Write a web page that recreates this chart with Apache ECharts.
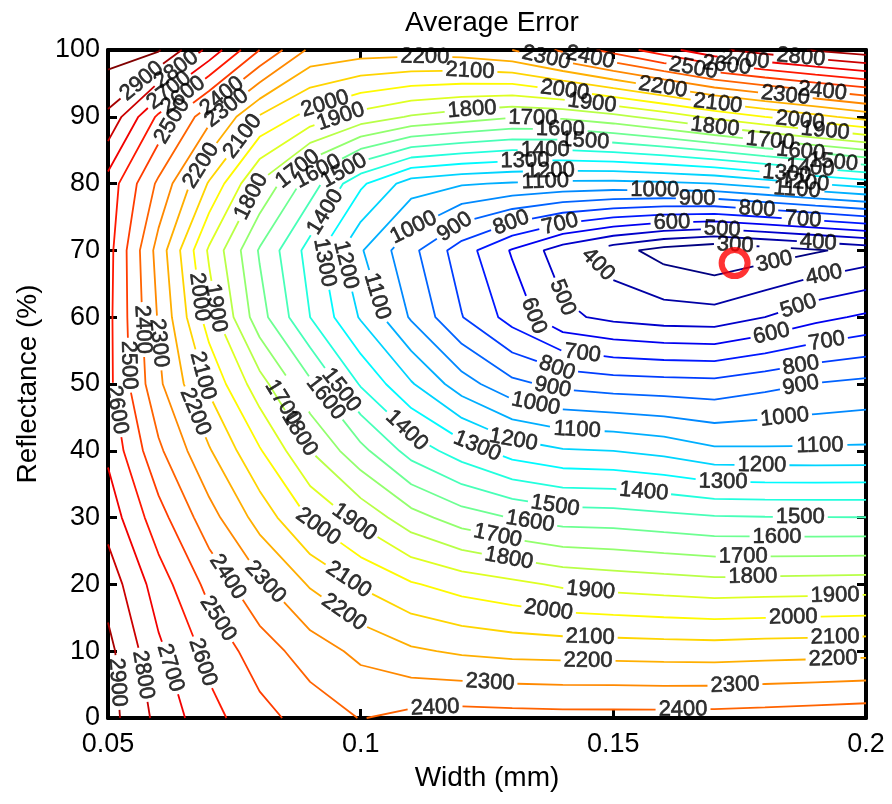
<!DOCTYPE html>
<html><head><meta charset="utf-8"><title>Average Error</title>
<script src="https://cdn.jsdelivr.net/npm/echarts@6/dist/echarts.min.js"></script>
<style>html,body{margin:0;padding:0;background:#fff;}#chart{width:892px;height:804px;}</style>
</head><body><div id="chart"></div>
<script>
// ---- data ----
const xValues = [0.05,0.06,0.07,0.08,0.09,0.10,0.11,0.12,0.13,0.14,0.15,0.16,0.17,0.18,0.19,0.20];
const yValues = [0,10,20,30,40,50,60,70,80,90,100];
// average error on the grid, one row per reflectance value
const errY0   = [2940,2772,2635,2533,2459,2396,2430,2445,2440,2435,2435,2435,2438,2445,2455,2465];
const errY10  = [2930,2720,2570,2450,2350,2275,2215,2185,2168,2162,2160,2155,2152,2160,2165,2171];
const errY20  = [2860,2650,2470,2320,2190,2090,2010,1960,1925,1885,1865,1850,1835,1840,1845,1850];
const errY30  = [2760,2540,2340,2160,1990,1870,1740,1650,1595,1555,1550,1530,1510,1505,1503,1502];
const errY40  = [2680,2420,2210,2010,1800,1630,1460,1350,1255,1210,1200,1170,1119,1116,1116,1118];
const errY50  = [2630,2320,2080,1840,1620,1390,1210,1045,925,872,850,840,833,870,905,927];
const errY60  = [2630,2290,1950,1640,1400,1190,988,804,660,522,475,450,443,500,570,618];
const errY70  = [2640,2260,1885,1590,1360,1110,928,748,590,445,340,260,215,250,290,330];
const errY80  = [2660,2380,2090,1790,1550,1320,1150,1110,1090,1075,1070,1080,1100,1150,1200,1250];
const errY90  = [2880,2580,2330,2090,1960,1860,1790,1750,1710,1720,1770,1840,1925,2000,2070,2140];
const errY100 = [3050,3010,2770,2500,2280,2250,2245,2255,2300,2420,2540,2660,2780,2850,2910,2960];
const levels = [300,400,500,600,700,800,900,1000,1100,1200,1300,1400,1500,1600,1700,1800,1900,2000,2100,2200,2300,2400,2500,2600,2700,2800,2900,3000];
// contour label anchors: [width, reflectance, level]
const labelPoints = [
 [0.0553,96.6,2900],[0.0646,96.0,2800],[0.0627,93.3,2700],[0.0656,92.5,2600],[0.0633,89.1,2500],
 [0.0736,92.1,2400],[0.0745,90.3,2300],[0.0682,82.8,2200],[0.0771,86.8,2100],[0.0929,92.1,2000],[0.0959,90.3,1900],
 [0.0785,78.0,1800],[0.0874,82.3,1700],[0.0914,82.0,1600],[0.0969,81.6,1500],[0.0933,75.6,1400],
 [0.0939,68.3,1300],[0.0969,67.8,1200],[0.1022,62.9,1100],
 [0.1110,72.6,1000],[0.1187,73.4,900],[0.1296,74.5,800],[0.1395,73.8,700],[0.1616,74.0,600],[0.1715,72.6,500],[0.1905,70.8,400],[0.1741,70.4,300],[0.1820,67.8,300],
 [0.1582,79.0,1000],[0.1666,77.8,900],[0.1784,76.0,800],[0.1875,74.3,700],
 [0.1127,98.8,2200],[0.1216,96.3,2100],[0.1220,91.5,1800],[0.1341,90.6,1700],[0.1395,88.0,1600],[0.1444,87.0,1500],[0.1365,85.0,1400],[0.1325,84.6,1300],[0.1375,83.1,1200],[0.1365,81.3,1100],
 [0.1404,94.0,2000],[0.1458,92.2,1900],[0.1365,98.2,2300],[0.1454,98.8,2400],
 [0.1598,94.3,2200],[0.1707,92.1,2100],[0.1701,88.5,1800],[0.1658,97.0,2500],[0.1725,98.2,2600],[0.1761,98.9,2700],[0.1870,98.1,2800],
 [0.1840,92.9,2300],[0.1913,93.3,2400],[0.1870,90.0,2000],[0.1919,87.6,1900],[0.1810,86.1,1700],[0.1870,84.3,1600],[0.1935,82.7,1500],[0.1889,82.0,1400],[0.1844,82.0,1300],[0.1879,80.5,1200],[0.1863,78.6,1100],
 [0.1919,65.6,400],[0.1870,60.8,500],[0.1816,56.6,600],[0.1923,56.1,700],[0.1870,53.3,800],[0.1870,50.3,900],[0.1840,44.3,1000],[0.1909,40.1,1100],[0.1794,37.1,1200],[0.1717,35.2,1300],[0.1559,32.9,1400],
 [0.1870,30.1,1500],[0.1824,27.1,1600],[0.1757,24.0,1700],[0.1776,21.7,1800],[0.1939,18.1,1900],[0.1856,15.1,2000],[0.1939,11.7,2100],[0.1935,8.4,2200],[0.1741,4.2,2300],[0.1638,0.9,2400],
 [0.1464,67.5,400],[0.1398,62.9,500],[0.1335,60.0,600],[0.1438,54.0,700],[0.1385,51.6,800],[0.1379,49.1,900],[0.1345,46.6,1000],[0.1428,42.4,1100],[0.1302,41.6,1200],[0.1232,40.9,1300],[0.1088,42.8,1400],
 [0.0666,62.9,2000],[0.0716,61.4,1900],[0.0555,58.1,2400],[0.0595,56.1,2300],[0.0534,52.8,2500],[0.0516,46.1,2600],[0.0672,50.9,2100],[0.0652,45.2,2200],
 [0.0945,48.1,1500],[0.0914,46.9,1600],[0.0846,47.2,1700],[0.0864,41.9,1800],
 [0.1385,31.9,1500],[0.1335,29.3,1600],[0.1270,26.9,1700],[0.1292,23.4,1800],[0.1454,18.1,1900],[0.1371,15.7,2000],[0.1454,11.4,2100],[0.1450,8.4,2200],[0.1256,5.4,2300],[0.1147,1.9,2400],
 [0.0904,27.4,2000],[0.0979,28.4,1900],[0.0969,19.9,2100],[0.0963,15.4,2200],[0.0795,19.2,2300],[0.0718,20.2,2400],[0.0708,14.4,2500],[0.0702,8.7,2600],[0.0641,7.9,2700],[0.0589,6.7,2800],[0.0534,5.4,2900]
];
const minMarker = [0.174, 68.1];
const xTickValues = [0.05,0.10,0.15,0.20];
const yTickValues = [0,10,20,30,40,50,60,70,80,90,100];
const titleText = 'Average Error';
const xName = 'Width (mm)';
const yName = 'Reflectance (%)';

// ---- build ----
const Z = [errY0,errY10,errY20,errY30,errY40,errY50,errY60,errY70,errY80,errY90,errY100];
const FONT = '"Liberation Sans", Arial, Helvetica, sans-serif';
const GRID = {left:108, right:26, top:50, bottom:86};
const W = 892 - GRID.left - GRID.right, H = 804 - GRID.top - GRID.bottom;
const X0 = xTickValues[0], X1 = xTickValues[xTickValues.length-1];
const Y0 = yTickValues[0], Y1 = yTickValues[yTickValues.length-1];
function toPx(p){ return [GRID.left + (p[0]-X0)/(X1-X0)*W, GRID.top + (Y1-p[1])/(Y1-Y0)*H]; }
function toData(q){ return [X0 + (q[0]-GRID.left)/W*(X1-X0), Y1 - (q[1]-GRID.top)/H*(Y1-Y0)]; }

function jet(t){
  const c=v=>Math.max(0,Math.min(1,v));
  const r=c(1.5-Math.abs(4*t-3)), g=c(1.5-Math.abs(4*t-2)), b=c(1.5-Math.abs(4*t-1));
  return 'rgb('+Math.round(r*255)+','+Math.round(g*255)+','+Math.round(b*255)+')';
}
function edgePt(key, L){
  const type=key[0]; const [i,j]=key.slice(1).split('_').map(Number);
  let z1,z2,p1,p2;
  if(type==='h'){ z1=Z[j][i]; z2=Z[j][i+1]; p1=[xValues[i],yValues[j]]; p2=[xValues[i+1],yValues[j]]; }
  else { z1=Z[j][i]; z2=Z[j+1][i]; p1=[xValues[i],yValues[j]]; p2=[xValues[i],yValues[j+1]]; }
  const t=(L-z1)/(z2-z1);
  return [p1[0]+t*(p2[0]-p1[0]), p1[1]+t*(p2[1]-p1[1])];
}
function buildContour(L){
  const nx=xValues.length, ny=yValues.length;
  const s=(i,j)=>Z[j][i]>=L;
  const segs=[];
  for(let j=0;j<ny-1;j++) for(let i=0;i<nx-1;i++){
    const a=s(i,j), b=s(i+1,j), c=s(i+1,j+1), d=s(i,j+1);
    const e0='h'+i+'_'+j, e1='v'+(i+1)+'_'+j, e2='h'+i+'_'+(j+1), e3='v'+i+'_'+j;
    const cr=[]; if(a!==b)cr.push(e0); if(b!==c)cr.push(e1); if(c!==d)cr.push(e2); if(d!==a)cr.push(e3);
    if(cr.length===2) segs.push(cr);
    else if(cr.length===4){
      const center=(Z[j][i]+Z[j][i+1]+Z[j+1][i+1]+Z[j+1][i])/4>=L;
      if(center===a){ segs.push([e0,e1]); segs.push([e2,e3]); }
      else { segs.push([e3,e0]); segs.push([e1,e2]); }
    }
  }
  const adj={};
  segs.forEach((sg,k)=>sg.forEach(e=>{(adj[e]=adj[e]||[]).push(k);}));
  const used=new Array(segs.length).fill(false);
  const lines=[];
  function walk(startKey,k0){
    const keys=[startKey]; let k=k0, cur=startKey;
    while(k!==undefined && !used[k]){
      used[k]=true; const nxt=segs[k][0]===cur?segs[k][1]:segs[k][0];
      keys.push(nxt); cur=nxt;
      k=(adj[cur]||[]).filter(m=>!used[m])[0];
    }
    return keys;
  }
  Object.keys(adj).forEach(e=>{ if(adj[e].length===1 && !used[adj[e][0]]) lines.push(walk(e,adj[e][0])); });
  segs.forEach((sg,k)=>{ if(!used[k]) lines.push(walk(sg[0],k)); });
  return lines.map(keys=>keys.map(e=>edgePt(e,L)));
}
function nearest(lines,p){
  let best={d:1e9,q:p,ang:0};
  lines.forEach(line=>{
    const pts=line.map(toPx);
    for(let k=0;k<pts.length-1;k++){
      const A=pts[k],B=pts[k+1],dx=B[0]-A[0],dy=B[1]-A[1],l2=dx*dx+dy*dy;
      let t=l2?((p[0]-A[0])*dx+(p[1]-A[1])*dy)/l2:0; t=Math.max(0,Math.min(1,t));
      const q=[A[0]+t*dx,A[1]+t*dy], d=Math.hypot(q[0]-p[0],q[1]-p[1]);
      if(d<best.d) best={d,q,ang:Math.atan2(-dy,dx)*180/Math.PI};
    }
  });
  let a=best.ang; while(a>90)a-=180; while(a<=-90)a+=180; best.ang=a;
  return best;
}
function cutPolyline(pts,circles){
  const pieces=[]; let cur=[];
  for(let k=0;k<pts.length-1;k++){
    const P=pts[k],Q=pts[k+1],D=[Q[0]-P[0],Q[1]-P[1]],a=D[0]*D[0]+D[1]*D[1];
    const iv=[];
    if(a>0) circles.forEach(C=>{
      const f=[P[0]-C.c[0],P[1]-C.c[1]], b=2*(D[0]*f[0]+D[1]*f[1]), c=f[0]*f[0]+f[1]*f[1]-C.r*C.r, disc=b*b-4*a*c;
      if(disc>0){ const sq=Math.sqrt(disc); const t1=Math.max(0,(-b-sq)/(2*a)), t2=Math.min(1,(-b+sq)/(2*a)); if(t1<t2) iv.push([t1,t2]); }
    });
    iv.sort((u,v)=>u[0]-v[0]);
    const m=[]; iv.forEach(u=>{ if(m.length && u[0]<=m[m.length-1][1]) m[m.length-1][1]=Math.max(m[m.length-1][1],u[1]); else m.push([u[0],u[1]]); });
    const at=t=>[P[0]+t*D[0],P[1]+t*D[1]];
    let t=0;
    if(cur.length===0 && (m.length===0 || m[0][0]>0)) cur.push(P);
    m.forEach(u=>{
      if(u[0]>t){ if(cur.length===0) cur.push(at(t)); cur.push(at(u[0])); }
      if(cur.length>1) pieces.push(cur);
      cur=[]; t=u[1];
    });
    if(t<1){ if(cur.length===0) cur.push(at(t)); cur.push(Q); }
  }
  if(cur.length>1) pieces.push(cur);
  return pieces;
}

const LABEL_FONT = 22;
const contours = levels.map(L=>({L, lines: buildContour(L)})).filter(c=>c.lines.length);
const usedLevels = contours.map(c=>c.L);
const cMin = Math.min(...usedLevels), cMax = Math.max(...usedLevels);

const labelItems = [];
const gapCircles = {};
labelPoints.forEach(([x,y,L])=>{
  const c = contours.find(cc=>cc.L===L);
  const p = toPx([x,y]);
  let center=p, rot=0;
  if(c){ const nb=nearest(c.lines,p); if(nb.d<12){ center=nb.q; } if(nb.d<40) rot=nb.ang;
    (gapCircles[L]=gapCircles[L]||[]).push({c:center, r:String(L).length*0.556*LABEL_FONT/2+3}); }
  labelItems.push({value:[...toData(center), L], label:{rotate:rot}});
});

const series = [];
contours.forEach(c=>{
  const color = jet((c.L-cMin)/(cMax-cMin));
  c.lines.forEach(line=>{
    const pieces = cutPolyline(line.map(toPx), gapCircles[c.L]||[]);
    pieces.forEach(pc=>{
      series.push({type:'line', data: pc.map(toData), showSymbol:false, symbol:'none', silent:true, animation:false, z:2,
        lineStyle:{color, width:1.8}, clip:true});
    });
  });
});
series.push({type:'scatter', data: labelItems, symbolSize:1, itemStyle:{color:'rgba(0,0,0,0)'}, silent:true, animation:false, z:5,
  label:{show:true, position:'inside', color:'#000', fontSize:LABEL_FONT, fontFamily:FONT,
    textBorderColor:'#000', textBorderWidth:0.6, formatter:p=>String(p.value[2])}});
series.push({type:'scatter', data:[minMarker], symbol:'circle', symbolSize:26, silent:true, animation:false, z:6,
  itemStyle:{color:'rgba(0,0,0,0)', borderColor:'#ff0000', borderWidth:6}});

const axisCommon = {axisLine:{show:true, onZero:false, lineStyle:{color:'#000', width:4}},
  axisTick:{show:true, inside:true, length:9, lineStyle:{color:'#000', width:3}}, splitLine:{show:false}};
const fmtX = v=>String(+(+v).toFixed(2));
const option = {
  animation:false,
  backgroundColor:'#fff',
  title:{text:titleText, left:487, top:4, textAlign:'center', textStyle:{fontSize:28, fontWeight:'normal', color:'#000', fontFamily:FONT}},
  grid:{left:GRID.left, right:GRID.right, top:GRID.top, bottom:GRID.bottom, containLabel:false},
  xAxis:[
    Object.assign({type:'value', position:'bottom', min:X0, max:X1, interval:xTickValues[1]-xTickValues[0],
      axisLabel:{color:'#000', fontSize:27, fontFamily:FONT, margin:13, formatter:fmtX},
      name:xName, nameLocation:'middle', nameGap:46, nameTextStyle:{color:'#000', fontSize:28, fontFamily:FONT}}, axisCommon),
    Object.assign({type:'value', position:'top', min:X0, max:X1, interval:xTickValues[1]-xTickValues[0], axisLabel:{show:false}}, axisCommon)
  ],
  yAxis:[
    Object.assign({type:'value', position:'left', min:Y0, max:Y1, interval:yTickValues[1]-yTickValues[0],
      axisLabel:{color:'#000', fontSize:27, fontFamily:FONT, margin:8},
      name:yName, nameLocation:'middle', nameGap:66, nameRotate:90, nameTextStyle:{color:'#000', fontSize:28, fontFamily:FONT}}, axisCommon),
    Object.assign({type:'value', position:'right', min:Y0, max:Y1, interval:yTickValues[1]-yTickValues[0], axisLabel:{show:false}}, axisCommon)
  ],
  series
};
const chart = echarts.init(document.getElementById('chart'), null, {renderer:'canvas'});
chart.setOption(option);
</script>
</body></html>
